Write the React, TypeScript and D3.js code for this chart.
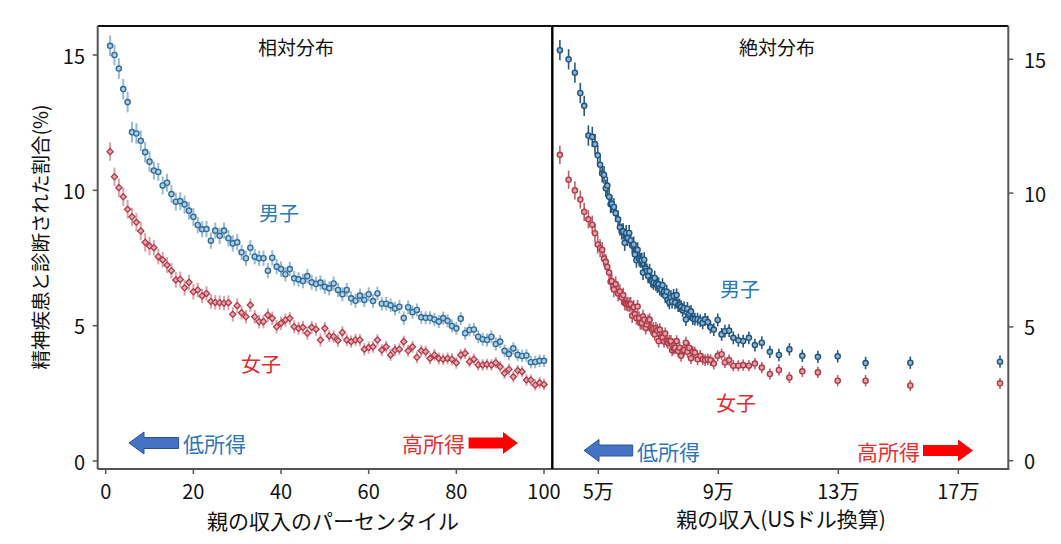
import React from "react";
import * as d3 from "d3";

// ---- data ----
const percentiles: number[] = d3.range(1, 101);

const maleRate: number[] = [
  15.34, 15.0, 14.5, 13.74, 13.26, 12.15, 12.1, 11.83, 11.41, 11.06,
  10.73, 10.68, 10.18, 10.28, 9.86, 9.58, 9.6, 9.48, 9.25, 9.02,
  8.72, 8.56, 8.57, 8.14, 8.51, 8.32, 8.51, 8.23, 8.04, 8.08,
  7.71, 7.49, 7.88, 7.55, 7.49, 7.49, 7.03, 7.51, 7.18, 7.09,
  6.9, 7.09, 6.75, 6.71, 6.65, 6.83, 6.6, 6.54, 6.59, 6.44,
  6.38, 6.56, 6.32, 6.16, 6.32, 6.01, 5.92, 6.11, 5.95, 6.16,
  5.91, 6.19, 5.81, 5.81, 5.75, 5.63, 5.7, 5.28, 5.68, 5.5,
  5.58, 5.31, 5.29, 5.29, 5.23, 5.15, 5.28, 5.18, 4.99, 4.9,
  5.26, 4.72, 4.84, 4.86, 4.59, 4.5, 4.47, 4.59, 4.32, 4.41,
  4.07, 3.95, 4.16, 3.92, 3.88, 3.9, 3.65, 3.66, 3.7, 3.7,
];

const femaleRate: number[] = [
  11.43, 10.5, 10.1, 9.76, 9.3, 9.02, 8.82, 8.5, 8.08, 7.94,
  7.88, 7.55, 7.43, 7.24, 7.03, 6.69, 6.71, 6.4, 6.6, 6.25,
  6.32, 6.1, 6.19, 5.89, 5.86, 5.85, 5.83, 5.85, 5.42, 5.74,
  5.48, 5.33, 5.76, 5.33, 5.15, 5.15, 5.39, 5.27, 4.96, 5.09,
  5.21, 5.27, 4.96, 4.9, 4.94, 4.72, 4.94, 4.87, 4.47, 4.9,
  4.62, 4.6, 4.45, 4.75, 4.47, 4.41, 4.47, 4.47, 4.13, 4.19,
  4.22, 4.47, 4.1, 4.22, 3.92, 4.1, 4.13, 4.41, 4.07, 4.22,
  3.83, 4.07, 4.04, 3.79, 3.92, 3.79, 3.76, 3.79, 3.76, 3.63,
  3.92, 3.98, 3.67, 3.76, 3.55, 3.55, 3.57, 3.55, 3.63, 3.48,
  3.24, 3.39, 3.11, 3.34, 3.3, 2.99, 2.99, 2.81, 2.89, 2.83,
];

// parent income (10k USD, "万") per percentile
const income: number[] = [
  3.72, 4.01, 4.22, 4.4, 4.53, 4.67, 4.8, 4.89, 4.98, 5.06,
  5.13, 5.19, 5.25, 5.3, 5.36, 5.41, 5.45, 5.52, 5.58, 5.66,
  5.72, 5.78, 5.83, 5.88, 5.93, 5.98, 6.03, 6.08, 6.13, 6.18,
  6.22, 6.27, 6.31, 6.36, 6.4, 6.45, 6.49, 6.53, 6.58, 6.62,
  6.66, 6.71, 6.75, 6.79, 6.84, 6.88, 6.92, 6.97, 7.01, 7.05,
  7.1, 7.14, 7.19, 7.23, 7.28, 7.32, 7.37, 7.42, 7.46, 7.51,
  7.56, 7.61, 7.66, 7.71, 7.76, 7.81, 7.86, 7.92, 7.97, 8.03,
  8.09, 8.15, 8.22, 8.31, 8.4, 8.48, 8.56, 8.65, 8.74, 8.85,
  8.98, 9.11, 9.22, 9.36, 9.5, 9.67, 9.83, 10.02, 10.22, 10.45,
  10.72, 11.02, 11.37, 11.8, 12.32, 12.98, 13.91, 15.4, 18.39, 40.0,
];

// error half-widths per decile
const maleErrByDecile: number[] = [0.38, 0.33, 0.3, 0.28, 0.27, 0.26, 0.25, 0.24, 0.24, 0.23];
const femaleErrByDecile: number[] = [0.34, 0.29, 0.27, 0.25, 0.24, 0.23, 0.22, 0.22, 0.21, 0.21];

const yTicks: number[] = [0, 5, 10, 15];
const xTicksLeft: number[] = [0, 20, 40, 60, 80, 100];
const xTicksRight: number[] = [5, 9, 13, 17];
const xTickLabelsRight: string[] = ["5万", "9万", "13万", "17万"];

const FONT = "'Noto Sans CJK JP', 'Noto Sans', sans-serif";

// ---- layout ----
const W = 1061;
const H = 544;
const frameL = 97.7;
const frameMid = 552.3;
const frameR = 1008.3;
const frameT = 26;
const frameB = 469;

const xL = d3.scaleLinear().domain([0, 100]).range([105.7, 544]);
const yL = d3.scaleLinear().domain([0, 15]).range([461, 55]);
const xR = d3.scaleLinear().domain([5, 17]).range([598.3, 958.3]);
const yR = d3.scaleLinear().domain([0, 15]).range([460.7, 59.3]);

const DS = 3.1;
const diamond = `M0,${-DS} L${DS},0 L0,${DS} L${-DS},0 Z`;

function arrowPath(x0: number, x1: number, cy: number) {
  const dir = x1 > x0 ? 1 : -1;
  const hl = 15;
  const hh = 11;
  const sh = 5.5;
  const xb = x1 - dir * hl;
  return `M${x0},${cy - sh} L${xb},${cy - sh} L${xb},${cy - hh} L${x1},${cy} L${xb},${cy + hh} L${xb},${cy + sh} L${x0},${cy + sh} Z`;
}

type Style = {
  errColor: string;
  errWidth: number;
  errOpacity: number;
  stroke: string;
  fill: string;
};

const leftMale: Style = { errColor: "#7fa9cc", errWidth: 2, errOpacity: 0.8, stroke: "#2f6d9b", fill: "#b3cfe5" };
const leftFemale: Style = { errColor: "#d98b94", errWidth: 2, errOpacity: 0.8, stroke: "#b03a48", fill: "#e7a9b0" };
const rightMale: Style = { errColor: "#1e4f75", errWidth: 1.6, errOpacity: 0.95, stroke: "#1e5580", fill: "#8fb2cf" };
const rightFemale: Style = { errColor: "#b34f5b", errWidth: 1.6, errOpacity: 0.9, stroke: "#b03a48", fill: "#e2a2aa" };

function Series(props: {
  xs: number[];
  ys: number[];
  errs: number[];
  yScale: d3.ScaleLinear<number, number>;
  style: Style;
  shape: "circle" | "diamond";
}) {
  const { xs, ys, errs, yScale, style, shape } = props;
  return (
    <g>
      {xs.map((x, i) => (
        <line
          key={"e" + i}
          x1={x}
          x2={x}
          y1={yScale(ys[i] - errs[i])}
          y2={yScale(ys[i] + errs[i])}
          stroke={style.errColor}
          strokeWidth={style.errWidth}
          opacity={style.errOpacity}
        />
      ))}
      {xs.map((x, i) =>
        shape === "circle" ? (
          <circle key={"m" + i} cx={x} cy={yScale(ys[i])} r={2.6} fill={style.fill} stroke={style.stroke} strokeWidth={1.4} />
        ) : (
          <path
            key={"m" + i}
            d={diamond}
            transform={`translate(${x},${yScale(ys[i])})`}
            fill={style.fill}
            stroke={style.stroke}
            strokeWidth={1.3}
          />
        )
      )}
    </g>
  );
}

export default function App() {
  const maleErr = percentiles.map((p) => maleErrByDecile[Math.floor((p - 1) / 10)]);
  const femaleErr = percentiles.map((p) => femaleErrByDecile[Math.floor((p - 1) / 10)]);
  const xsLeft = percentiles.map((p) => xL(p));
  const xsRight = income.map((v) => xR(v));

  return (
    <svg
      width={W}
      height={H}
      viewBox={`0 0 ${W} ${H}`}
      style={{ position: "absolute", left: 0, top: 0, background: "#fff", fontFamily: FONT }}
    >
      <rect x={0} y={0} width={W} height={H} fill="#fff" />
      <defs>
        <clipPath id="clipR">
          <rect x={frameMid + 1} y={frameT} width={frameR - frameMid - 1} height={frameB - frameT} />
        </clipPath>
        <clipPath id="clipL">
          <rect x={frameL} y={frameT} width={frameMid - frameL} height={frameB - frameT} />
        </clipPath>
      </defs>

      {/* left panel data */}
      <g clipPath="url(#clipL)">
        <Series xs={xsLeft} ys={femaleRate} errs={femaleErr} yScale={yL} style={leftFemale} shape="diamond" />
        <Series xs={xsLeft} ys={maleRate} errs={maleErr} yScale={yL} style={leftMale} shape="circle" />
      </g>

      {/* right panel data */}
      <g clipPath="url(#clipR)">
        <Series xs={xsRight} ys={femaleRate} errs={femaleErr} yScale={yR} style={rightFemale} shape="circle" />
        <Series xs={xsRight} ys={maleRate} errs={maleErr} yScale={yR} style={rightMale} shape="circle" />
      </g>

      {/* frame */}
      <line x1={frameL} x2={frameR} y1={frameT} y2={frameT} stroke="#111" strokeWidth={2} />
      <line x1={frameL} x2={frameR + 1} y1={frameB} y2={frameB} stroke="#555" strokeWidth={2} />
      <line x1={frameL} x2={frameL} y1={frameT} y2={frameB} stroke="#555" strokeWidth={2} />
      <line x1={frameR} x2={frameR} y1={frameT} y2={frameB} stroke="#555" strokeWidth={2} />
      <line x1={frameMid} x2={frameMid} y1={frameT} y2={frameB} stroke="#000" strokeWidth={2.4} />

      {/* left y axis */}
      {yTicks.map((t) => (
        <g key={"yl" + t}>
          <line x1={frameL - 5} x2={frameL} y1={yL(t)} y2={yL(t)} stroke="#555" strokeWidth={1.5} />
          <text x={85} y={yL(t)} textAnchor="end" dominantBaseline="central" fontSize={20} fill="#111">
            {t}
          </text>
        </g>
      ))}
      {/* right y axis */}
      {yTicks.map((t) => (
        <g key={"yr" + t}>
          <line x1={frameR} x2={frameR + 5} y1={yR(t)} y2={yR(t)} stroke="#555" strokeWidth={1.5} />
          <text x={1024} y={yR(t)} textAnchor="start" dominantBaseline="central" fontSize={20} fill="#111">
            {t}
          </text>
        </g>
      ))}

      {/* left x axis */}
      {xTicksLeft.map((t) => (
        <g key={"xl" + t}>
          <line x1={xL(t)} x2={xL(t)} y1={frameB} y2={frameB + 5} stroke="#555" strokeWidth={1.5} />
          <text x={xL(t)} y={490} textAnchor="middle" dominantBaseline="central" fontSize={20} fill="#111">
            {t}
          </text>
        </g>
      ))}
      {/* right x axis */}
      {xTicksRight.map((t, i) => (
        <g key={"xr" + t}>
          <line x1={xR(t)} x2={xR(t)} y1={frameB} y2={frameB + 5} stroke="#555" strokeWidth={1.5} />
          <text x={xR(t)} y={490} textAnchor="middle" dominantBaseline="central" fontSize={20} fill="#111">
            {xTickLabelsRight[i]}
          </text>
        </g>
      ))}

      {/* axis titles */}
      <text x={333} y={520} textAnchor="middle" dominantBaseline="central" fontSize={21} fill="#111">
        親の収入のパーセンタイル
      </text>
      <text x={781} y={518} textAnchor="middle" dominantBaseline="central" fontSize={21} fill="#111">
        親の収入(USドル換算)
      </text>
      <text
        transform={`translate(39,237) rotate(-90)`}
        textAnchor="middle"
        dominantBaseline="central"
        fontSize={19.5}
        fill="#111"
      >
        精神疾患と診断された割合(%)
      </text>

      {/* panel titles */}
      <text x={296} y={46} textAnchor="middle" dominantBaseline="central" fontSize={19} fill="#111">
        相対分布
      </text>
      <text x={777} y={46} textAnchor="middle" dominantBaseline="central" fontSize={19} fill="#111">
        絶対分布
      </text>

      {/* series labels */}
      <text x={279} y={212} textAnchor="middle" dominantBaseline="central" fontSize={20} fill="#2a7ab8">
        男子
      </text>
      <text x={261} y={363} textAnchor="middle" dominantBaseline="central" fontSize={20} fill="#e02a2f">
        女子
      </text>
      <text x={740} y={288} textAnchor="middle" dominantBaseline="central" fontSize={20} fill="#2a7ab8">
        男子
      </text>
      <text x={736} y={402} textAnchor="middle" dominantBaseline="central" fontSize={20} fill="#e02a2f">
        女子
      </text>

      {/* income arrows, left panel */}
      <path d={arrowPath(178.6, 129, 443)} fill="#4472c4" stroke="#2f528f" strokeWidth={1} />
      <text x={183} y={443} textAnchor="start" dominantBaseline="central" fontSize={21} fill="#2e75b6">
        低所得
      </text>
      <text x={465} y={443} textAnchor="end" dominantBaseline="central" fontSize={21} fill="#e8302c">
        高所得
      </text>
      <path d={arrowPath(468.6, 518, 443)} fill="#ff0000" />

      {/* income arrows, right panel */}
      <path d={arrowPath(632.7, 584, 450.5)} fill="#4472c4" stroke="#2f528f" strokeWidth={1} />
      <text x={637} y={450.5} textAnchor="start" dominantBaseline="central" fontSize={21} fill="#2e75b6">
        低所得
      </text>
      <text x={920} y={450.5} textAnchor="end" dominantBaseline="central" fontSize={21} fill="#e8302c">
        高所得
      </text>
      <path d={arrowPath(923, 973, 450.5)} fill="#ff0000" />
    </svg>
  );
}
